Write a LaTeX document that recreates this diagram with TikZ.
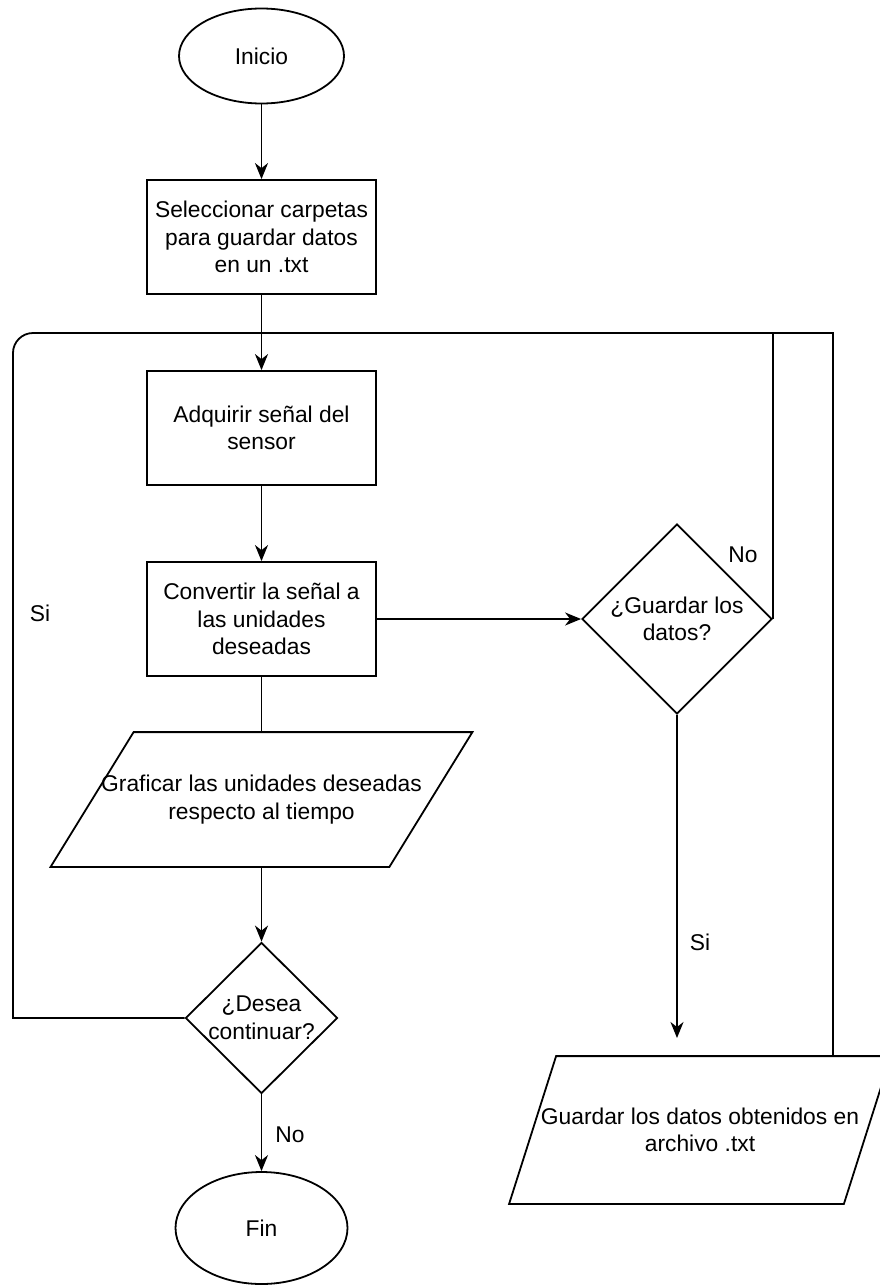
\documentclass[tikz,border=0pt]{standalone}
\usepackage{fontspec}
\setmainfont{Liberation Sans}
\usetikzlibrary{shapes.geometric,arrows.meta}
\begin{document}
\begin{tikzpicture}[x=1pt,y=-1pt,line width=1.8pt,
  >={Stealth[length=16pt,width=13pt,inset=5pt]},
  base/.style={font=\fontsize{22.8}{27.5}\selectfont,align=center,inner sep=0pt,text=black},
  proc/.style={base,draw,rectangle,minimum width=229pt,minimum height=114pt},
  term/.style={base,draw,ellipse},
  dec/.style={draw,diamond,aspect=1,inner sep=0pt},
  io/.style={base,rectangle,inner sep=0pt},
  lbl/.style={base}]
\useasboundingbox (0,0) rectangle (880,1285);
\fill[white] (0,0) rectangle (880,1285);
\clip (0,0) rectangle (880,1285);

% nodes
\node[term,minimum width=165pt,minimum height=95pt] (inicio) at (261.5,56) {Inicio};
\node[proc] (sel) at (261.5,237) {Seleccionar carpetas\\para guardar datos\\en un .txt};
\node[proc] (adq) at (261.5,428) {Adquirir señal del\\sensor};
\node[proc] (conv) at (261.5,619) {Convertir la señal a\\las unidades\\deseadas};
\node[dec,minimum width=190pt,minimum height=190pt] (d1) at (677,619) {};
\node[base] (d1t) at (d1) {¿Guardar los\\datos?};
\node[io,minimum width=337pt,minimum height=133pt] (graf) at (261.5,799.5) {Graficar las unidades deseadas\\respecto al tiempo};
\draw ([xshift=41.5pt]graf.north west) -- ([xshift=41.5pt]graf.north east)
   -- ([xshift=-41.5pt]graf.south east) -- ([xshift=-41.5pt]graf.south west) -- cycle;
\node[dec,minimum width=152pt,minimum height=151pt] (d2) at (261.5,1018) {};
\node[base] (d2t) at (d2) {¿Desea\\continuar?};
\node[term,minimum width=172pt,minimum height=112pt] (fin) at (261.5,1228) {Fin};
\node[io,minimum width=333pt,minimum height=146pt] (p2) at (700,1130) {Guardar los datos obtenidos en\\archivo .txt};
\draw ([xshift=23.5pt]p2.north west) -- ([xshift=23.5pt]p2.north east)
   -- ([xshift=-23.5pt]p2.south east) -- ([xshift=-23.5pt]p2.south west) -- cycle;

% labels
\node[lbl] (lno1) at (743,555) {No};
\node[lbl] (lsi1) at (700,942) {Si};
\node[lbl] (lsi2) at (40,613) {Si};
\node[lbl] (lno2) at (290,1135) {No};

% junction coordinates
\coordinate (jt) at (261.5,333);
\coordinate (jr) at (833,333);
\coordinate (jl) at (13,333);
\coordinate (bl) at (13,1018);
\coordinate (p2in) at (677,1038);

% connectors
\draw[->] (inicio) -- (sel);
\draw[->] (sel) -- (adq);
\draw[->] (adq) -- (conv);
\draw[->] (conv) -- (d1);
\draw (conv) -- (graf);
\draw[->] (graf) -- (d2);
\draw[->] (d2) -- (fin);
\draw[->] (d1) -- (p2in);
\draw (d2.west) -- (bl) -- ([yshift=-100pt]jl) [rounded corners=20pt] -- (jl) -- (jt);
\draw (d1.east) -- (d1.east |- jt) -- (jt);
\draw (p2.north -| jr) -- (jr) -- (d1.east |- jt);
\end{tikzpicture}
\end{document}
